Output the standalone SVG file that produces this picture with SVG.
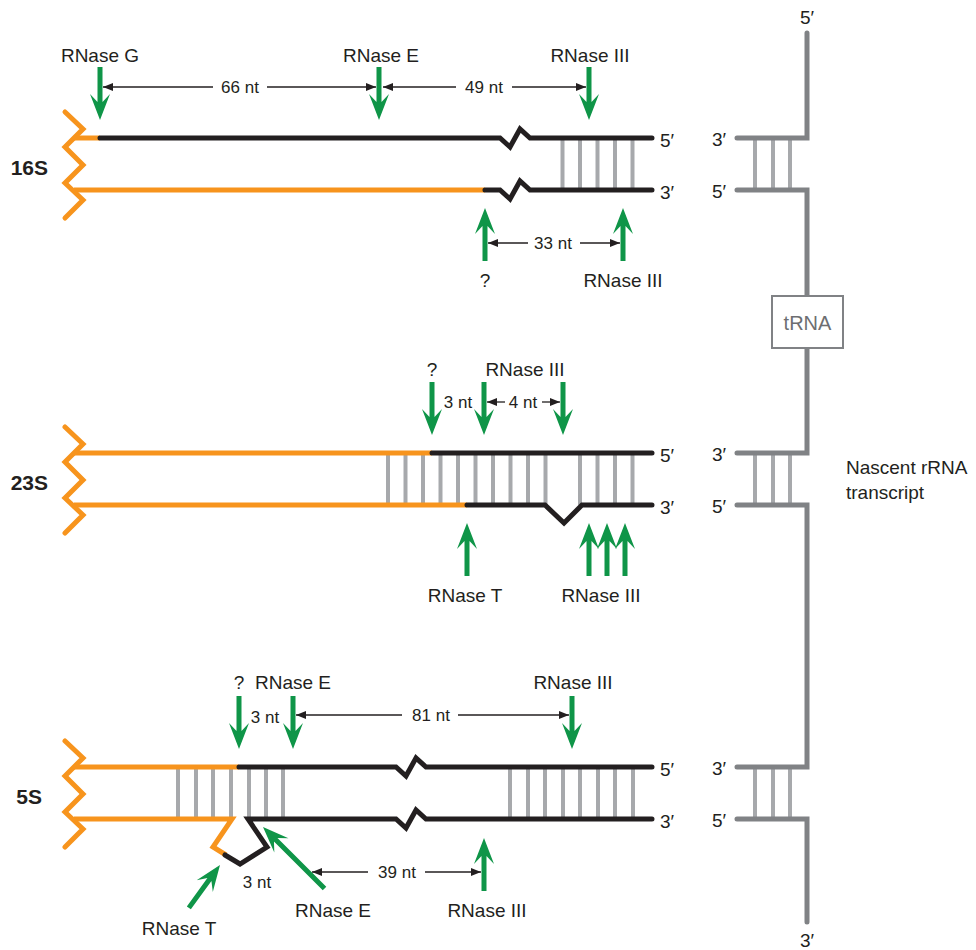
<svg xmlns="http://www.w3.org/2000/svg" xmlns:xlink="http://www.w3.org/1999/xlink" width="976" height="950" viewBox="0 0 976 950">
<style>
.or{fill:none;stroke:#f7941d;stroke-width:5;stroke-linejoin:miter}
.bk{fill:none;stroke:#231f20;stroke-width:5;stroke-linejoin:miter}
.rung{stroke:#a7a9ac;stroke-width:4}
.gr{fill:none;stroke:#808285;stroke-width:5;stroke-linecap:round;stroke-linejoin:miter}
.dim{fill:none;stroke:#231f20;stroke-width:1.3}
.ga{fill:#0f9548}
text{font-family:"Liberation Sans",Arial,sans-serif;fill:#231f20}
.lb{font-size:19px;text-anchor:middle}
.nt{font-size:17px;text-anchor:middle}
.pr{font-size:19px}
.sec{font-size:21px;font-weight:bold;text-anchor:end}
</style>
<defs>
<marker id="ah" viewBox="0 0 10 8" refX="10" refY="4" markerWidth="10" markerHeight="8" markerUnits="userSpaceOnUse" orient="auto">
<path d="M0,0 L10,4 L0,8 Z" fill="#231f20"/>
</marker>
<path id="zig" class="or" d="M65,-26 L83,-9 L65,9 L83,27 L65,45 L83,62 L65,80" stroke-linecap="round"/>
<path id="arr" class="ga" d="M0,0 L-10,-26 L-2.5,-18 L-2.5,-53 L2.5,-53 L2.5,-18 L10,-26 Z"/>
<path id="arrL" class="ga" d="M0,0 L-10,-26 L-2.5,-18 L-2.5,-87 L2.5,-87 L2.5,-18 L10,-26 Z"/>
</defs>

<g id="s16">
<use href="#zig" transform="translate(0,138)"/>
<g class="rung">
<line x1="562.5" y1="138" x2="562.5" y2="190"/><line x1="580" y1="138" x2="580" y2="190"/><line x1="597.5" y1="138" x2="597.5" y2="190"/><line x1="615" y1="138" x2="615" y2="190"/><line x1="632.5" y1="138" x2="632.5" y2="190"/>
</g>
<path class="or" d="M74,138 H100"/>
<path class="bk" d="M100,138 H500 L510,147 L520,129 L530,138 H652" stroke-linecap="round"/>
<path class="or" d="M74,190 H485"/>
<path class="bk" d="M485,190 H500 L510,199 L520,181 L530,190 H652" stroke-linecap="round"/>
<text class="sec" x="48" y="175">16S</text>
<text class="pr" x="660" y="147">5′</text>
<text class="pr" x="660" y="199">3′</text>
</g>

<g id="s23">
<use href="#zig" transform="translate(0,453)"/>
<g class="rung">
<line x1="388" y1="453" x2="388" y2="505"/><line x1="405.5" y1="453" x2="405.5" y2="505"/><line x1="423" y1="453" x2="423" y2="505"/><line x1="440.5" y1="453" x2="440.5" y2="505"/><line x1="458" y1="453" x2="458" y2="505"/><line x1="475.5" y1="453" x2="475.5" y2="505"/><line x1="493" y1="453" x2="493" y2="505"/><line x1="510.5" y1="453" x2="510.5" y2="505"/><line x1="528" y1="453" x2="528" y2="505"/><line x1="545.5" y1="453" x2="545.5" y2="505"/><line x1="580" y1="453" x2="580" y2="505"/><line x1="597.5" y1="453" x2="597.5" y2="505"/><line x1="615" y1="453" x2="615" y2="505"/><line x1="632.5" y1="453" x2="632.5" y2="505"/>
</g>
<path class="or" d="M74,453 H432"/>
<path class="bk" d="M432,453 H652" stroke-linecap="round"/>
<path class="or" d="M74,505 H467"/>
<path class="bk" d="M467,505 H545 L564,523 L582,505 H652" stroke-linecap="round"/>
<text class="sec" x="48" y="490">23S</text>
<text class="pr" x="660" y="462">5′</text>
<text class="pr" x="660" y="514">3′</text>
</g>

<g id="s5">
<use href="#zig" transform="translate(0,767)"/>
<g class="rung">
<line x1="178" y1="767" x2="178" y2="819"/><line x1="196" y1="767" x2="196" y2="819"/><line x1="213" y1="767" x2="213" y2="819"/><line x1="231" y1="767" x2="231" y2="819"/><line x1="249" y1="767" x2="249" y2="819"/><line x1="266" y1="767" x2="266" y2="819"/><line x1="283" y1="767" x2="283" y2="819"/>
<line x1="510" y1="767" x2="510" y2="819"/><line x1="528" y1="767" x2="528" y2="819"/><line x1="545" y1="767" x2="545" y2="819"/><line x1="563" y1="767" x2="563" y2="819"/><line x1="580" y1="767" x2="580" y2="819"/><line x1="598" y1="767" x2="598" y2="819"/><line x1="615" y1="767" x2="615" y2="819"/><line x1="633" y1="767" x2="633" y2="819"/>
</g>
<path class="or" d="M74,767 H239"/>
<path class="bk" d="M239,767 H396 L406,776 L416,758 L426,767 H652" stroke-linecap="round"/>
<path class="or" d="M74,819 H232 L213,847 L226,855"/>
<path class="bk" d="M225,855 L240,864 L267,847 L248,819 H396 L406,828 L416,810 L426,819 H652" stroke-linecap="round"/>
<text class="sec" x="42" y="804">5S</text>
<text class="pr" x="660" y="776">5′</text>
<text class="pr" x="660" y="828">3′</text>
</g>

<g id="transcript">
<g class="rung" stroke-width="3.5">
<line x1="755" y1="138" x2="755" y2="190"/><line x1="773" y1="138" x2="773" y2="190"/><line x1="790" y1="138" x2="790" y2="190"/>
<line x1="755" y1="453" x2="755" y2="505"/><line x1="773" y1="453" x2="773" y2="505"/><line x1="790" y1="453" x2="790" y2="505"/>
<line x1="755" y1="767" x2="755" y2="819"/><line x1="773" y1="767" x2="773" y2="819"/><line x1="790" y1="767" x2="790" y2="819"/>
</g>
<path class="gr" d="M807,33 V138 H737"/>
<path class="gr" d="M737,190 H807 V296"/>
<path class="gr" d="M807,347 V453 H737"/>
<path class="gr" d="M737,505 H807 V767 H737"/>
<path class="gr" d="M737,819 H807 V922"/>
<text class="pr" x="800" y="24">5′</text>
<text class="pr" x="712" y="146">3′</text>
<text class="pr" x="712" y="198">5′</text>
<text class="pr" x="712" y="461">3′</text>
<text class="pr" x="712" y="513">5′</text>
<text class="pr" x="712" y="775">3′</text>
<text class="pr" x="712" y="827">5′</text>
<text class="pr" x="800" y="947">3′</text>
<text class="pr" x="846" y="474">Nascent rRNA</text>
<text class="pr" x="846" y="499">transcript</text>
</g>

<g id="tRNA">
<rect x="772" y="296" width="71" height="52" fill="#fff" stroke="#808285" stroke-width="2"/>
<text x="807.5" y="330" font-size="20" text-anchor="middle" fill="#6d6e71" style="fill:#6d6e71">tRNA</text>
</g>

<g id="connectors">
<!-- 16S -->
<path class="dim" d="M213,87 H103" marker-end="url(#ah)"/>
<path class="dim" d="M267,87 H376" marker-end="url(#ah)"/>
<path class="dim" d="M456,87 H383" marker-end="url(#ah)"/>
<path class="dim" d="M512,87 H586" marker-end="url(#ah)"/>
<path class="dim" d="M528,243 H488" marker-end="url(#ah)"/>
<path class="dim" d="M580,243 H620" marker-end="url(#ah)"/>
<use href="#arr" transform="translate(100,120)"/>
<use href="#arr" transform="translate(379,120)"/>
<use href="#arr" transform="translate(589,120)"/>
<use href="#arr" transform="translate(485,208) rotate(180)"/>
<use href="#arr" transform="translate(623,208) rotate(180)"/>
<!-- 23S -->
<path class="dim" d="M505,402 H487" marker-end="url(#ah)"/>
<path class="dim" d="M542,402 H560" marker-end="url(#ah)"/>
<use href="#arr" transform="translate(432,435)"/>
<use href="#arr" transform="translate(484,435)"/>
<use href="#arr" transform="translate(563,435)"/>
<use href="#arr" transform="translate(467,523) rotate(180)"/>
<use href="#arr" transform="translate(589,523) rotate(180)"/>
<use href="#arr" transform="translate(607,523) rotate(180)"/>
<use href="#arr" transform="translate(625,523) rotate(180)"/>
<!-- 5S -->
<path class="dim" d="M402,715 H296" marker-end="url(#ah)"/>
<path class="dim" d="M458,715 H569" marker-end="url(#ah)"/>
<path class="dim" d="M368,872 H312" marker-end="url(#ah)"/>
<path class="dim" d="M425,872 H481" marker-end="url(#ah)"/>
<use href="#arr" transform="translate(239,749)"/>
<use href="#arr" transform="translate(293,749)"/>
<use href="#arr" transform="translate(572,749)"/>
<use href="#arr" transform="translate(484,838) rotate(180)"/>
<use href="#arrL" transform="translate(263,827) rotate(135)"/>
<use href="#arr" transform="translate(220,865) rotate(-144)"/>
</g>

<g id="labels">
<text class="lb" x="100" y="62">RNase G</text>
<text class="lb" x="381" y="62">RNase E</text>
<text class="lb" x="590" y="62">RNase III</text>
<text class="nt" x="240" y="93">66 nt</text>
<text class="nt" x="484" y="93">49 nt</text>
<text class="nt" x="553" y="249">33 nt</text>
<text class="lb" x="485" y="287">?</text>
<text class="lb" x="623" y="287">RNase III</text>

<text class="lb" x="432" y="376">?</text>
<text class="lb" x="525" y="376">RNase III</text>
<text class="nt" x="458" y="408">3 nt</text>
<text class="nt" x="523" y="408">4 nt</text>
<text class="lb" x="465" y="602">RNase T</text>
<text class="lb" x="601" y="602">RNase III</text>

<text class="lb" x="239" y="689">?</text>
<text class="lb" x="293" y="689">RNase E</text>
<text class="lb" x="573" y="689">RNase III</text>
<text class="nt" x="265" y="723">3 nt</text>
<text class="nt" x="431" y="721">81 nt</text>
<text class="nt" x="397" y="878">39 nt</text>
<text class="nt" x="257" y="888">3 nt</text>
<text class="lb" x="333" y="917">RNase E</text>
<text class="lb" x="487" y="917">RNase III</text>
<text class="lb" x="179" y="935">RNase T</text>
</g>
</svg>
